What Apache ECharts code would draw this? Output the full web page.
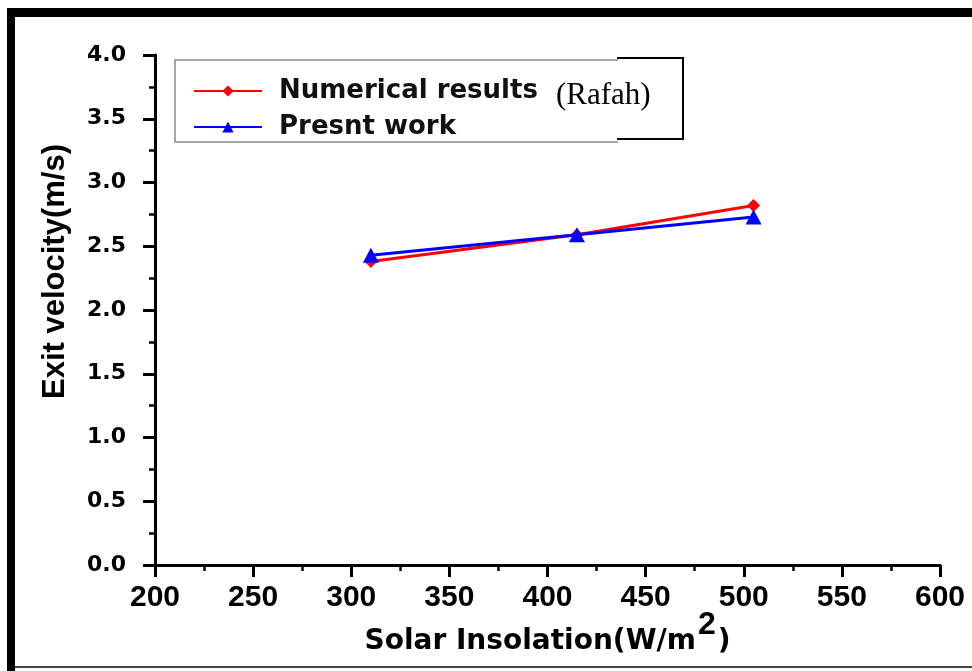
<!DOCTYPE html>
<html>
<head>
<meta charset="utf-8">
<script src="https://cdn.jsdelivr.net/npm/echarts@6/dist/echarts.min.js"></script>
<style>
html,body{margin:0;padding:0;background:#fff;}
#chart{width:972px;height:671px;}
</style>
</head>
<body>
<div id="chart"></div>
<script>
// Data
const insolation = [310, 415, 505];
const numericalResults = [2.38, 2.59, 2.82];
const presentWork = [2.43, 2.59, 2.73];
const seriesNames = ['Numerical results', 'Presnt work'];

const chart = echarts.init(document.getElementById('chart'), null, {renderer: 'canvas'});

function pairs(xs, ys) { return xs.map((x, i) => [x, ys[i]]); }

const option = {
  backgroundColor: '#fff',
  animation: false,
  grid: {left: 155, right: 32, top: 55, bottom: 106, containLabel: false},
  xAxis: {
    type: 'value', min: 200, max: 600, interval: 50,
    name: '{t|Solar Insolation(W/m}{s|2}{t|)}',
    nameLocation: 'middle', nameGap: 44, nameMoveOverlap: false,
    nameTextStyle: {
      rich: {
        t: {fontFamily: 'DejaVu Sans', fontWeight: 'bold', fontSize: 28, color: '#000'},
        s: {fontFamily: 'Liberation Sans', fontWeight: 'bold', fontSize: 32, color: '#000', padding: [0, 2, 34, 2]}
      }
    },
    axisLine: {lineStyle: {color: '#000', width: 3}},
    axisTick: {show: true, inside: false, length: 12, lineStyle: {color: '#000', width: 3}},
    minorTick: {show: true, splitNumber: 2, length: 6, lineStyle: {color: '#000', width: 2.5}},
    splitLine: {show: false},
    minorSplitLine: {show: false},
    axisLabel: {color: '#000', fontFamily: 'Liberation Sans', fontWeight: 'bold', fontSize: 30, margin: 18}
  },
  yAxis: {
    type: 'value', min: 0, max: 4, interval: 0.5,
    name: 'Exit velocity(m/s)',
    nameLocation: 'middle', nameGap: 84, nameRotate: 90, nameMoveOverlap: false,
    nameTextStyle: {fontFamily: 'Liberation Sans', fontWeight: 'bold', fontSize: 31, color: '#000', padding: [0, 0, 0, 77]},
    axisLine: {show: true, lineStyle: {color: '#000', width: 3}},
    axisTick: {show: true, inside: false, length: 12, lineStyle: {color: '#000', width: 3}},
    minorTick: {show: true, splitNumber: 2, length: 6, lineStyle: {color: '#000', width: 2.5}},
    splitLine: {show: false},
    minorSplitLine: {show: false},
    axisLabel: {color: '#000', fontFamily: 'DejaVu Sans', fontWeight: 'bold', fontSize: 22, margin: 29,
      formatter: v => v.toFixed(1)}
  },
  legend: {
    show: true, orient: 'vertical', left: 193, top: 78,
    itemWidth: 68, itemHeight: 14, itemGap: 10, padding: 0,
    textStyle: {fontFamily: 'DejaVu Sans', fontWeight: 'bold', fontSize: 26, color: '#111', padding: [0, 0, 0, 12]},
    data: seriesNames
  },
  graphic: [
    {type: 'rect', shape: {x: 7, y: 8, width: 965, height: 9}, style: {fill: '#000'}, silent: true},
    {type: 'rect', shape: {x: 7, y: 8, width: 8, height: 663}, style: {fill: '#000'}, silent: true},
    {type: 'rect', shape: {x: 15, y: 666, width: 957, height: 2}, style: {fill: '#444'}, silent: true},
    {type: 'polyline', shape: {points: [[618, 60], [175, 60], [175, 142], [618, 142]]}, style: {fill: 'none', stroke: '#888', lineWidth: 1.5}, silent: true, z: -1},
    {type: 'polyline', shape: {points: [[617, 58], [683, 58], [683, 139], [617, 139]]}, style: {fill: 'none', stroke: '#000', lineWidth: 2}, silent: true},
    {type: 'text', x: 556, y: 96, style: {text: '(Rafah)', fontFamily: 'Liberation Serif', fontSize: 31, fill: '#000', verticalAlign: 'middle'}, silent: true}
  ],
  series: [
    {
      name: seriesNames[0], type: 'line', data: pairs(insolation, numericalResults),
      symbol: 'diamond', symbolSize: [13, 13],
      lineStyle: {color: '#ff0000', width: 3},
      itemStyle: {color: '#ff0000'}, z: 2
    },
    {
      name: seriesNames[1], type: 'line', data: pairs(insolation, presentWork),
      symbol: 'triangle', symbolSize: [16, 15],
      lineStyle: {color: '#0000ff', width: 3},
      itemStyle: {color: '#0000ff'}, z: 3
    }
  ]
};
chart.setOption(option);
</script>
</body>
</html>
